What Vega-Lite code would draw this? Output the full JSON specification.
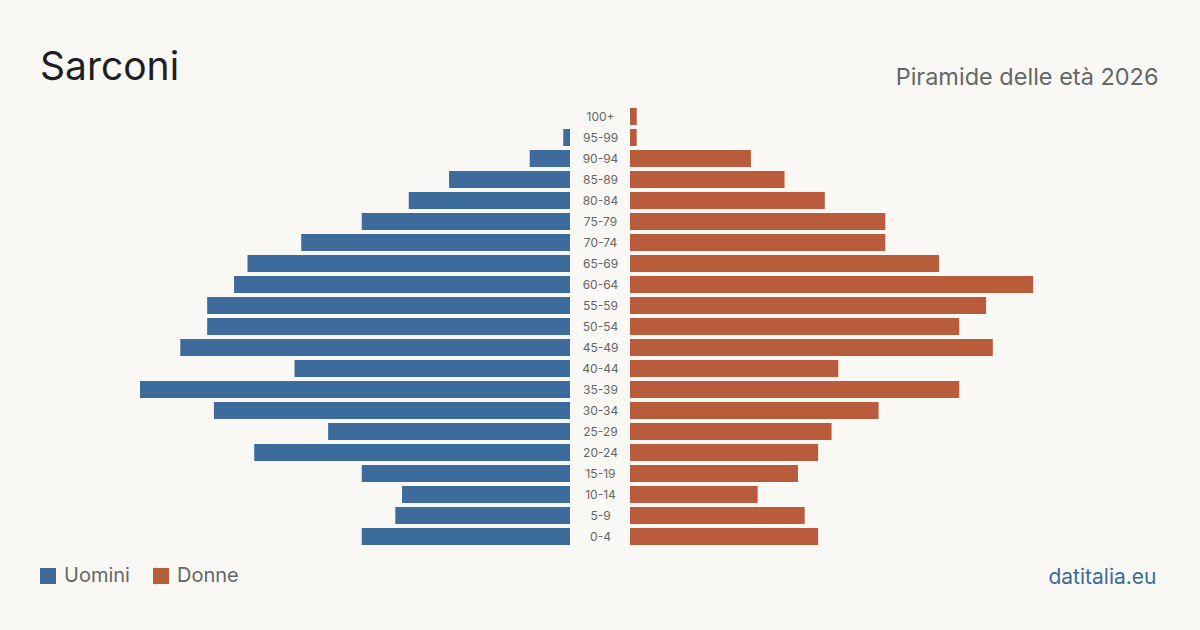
{
  "$schema": "https://vega.github.io/schema/vega-lite/v6.json",
  "width": 1200,
  "height": 441,
  "autosize": {"type": "none"},
  "padding": {"left": 0, "right": 0, "top": 106, "bottom": 83},
  "background": "#f9f8f4",
  "title": {"text": "Sarconi", "anchor": "start", "frame": "group", "dx": 40, "dy": 80, "offset": 26, "fontSize": 39, "font": "Inter", "fontWeight": 400, "color": "#1f1f1f", "baseline": "alphabetic"},
  "data": {"values": [
    {"eta": "100+", "sesso": "Uomini", "n": 0},
    {"eta": "95-99", "sesso": "Uomini", "n": 1},
    {"eta": "90-94", "sesso": "Uomini", "n": 6},
    {"eta": "85-89", "sesso": "Uomini", "n": 18},
    {"eta": "80-84", "sesso": "Uomini", "n": 24},
    {"eta": "75-79", "sesso": "Uomini", "n": 31},
    {"eta": "70-74", "sesso": "Uomini", "n": 40},
    {"eta": "65-69", "sesso": "Uomini", "n": 48},
    {"eta": "60-64", "sesso": "Uomini", "n": 50},
    {"eta": "55-59", "sesso": "Uomini", "n": 54},
    {"eta": "50-54", "sesso": "Uomini", "n": 54},
    {"eta": "45-49", "sesso": "Uomini", "n": 58},
    {"eta": "40-44", "sesso": "Uomini", "n": 41},
    {"eta": "35-39", "sesso": "Uomini", "n": 64},
    {"eta": "30-34", "sesso": "Uomini", "n": 53},
    {"eta": "25-29", "sesso": "Uomini", "n": 36},
    {"eta": "20-24", "sesso": "Uomini", "n": 47},
    {"eta": "15-19", "sesso": "Uomini", "n": 31},
    {"eta": "10-14", "sesso": "Uomini", "n": 25},
    {"eta": "5-9", "sesso": "Uomini", "n": 26},
    {"eta": "0-4", "sesso": "Uomini", "n": 31},
    {"eta": "100+", "sesso": "Donne", "n": 1},
    {"eta": "95-99", "sesso": "Donne", "n": 1},
    {"eta": "90-94", "sesso": "Donne", "n": 18},
    {"eta": "85-89", "sesso": "Donne", "n": 23},
    {"eta": "80-84", "sesso": "Donne", "n": 29},
    {"eta": "75-79", "sesso": "Donne", "n": 38},
    {"eta": "70-74", "sesso": "Donne", "n": 38},
    {"eta": "65-69", "sesso": "Donne", "n": 46},
    {"eta": "60-64", "sesso": "Donne", "n": 60},
    {"eta": "55-59", "sesso": "Donne", "n": 53},
    {"eta": "50-54", "sesso": "Donne", "n": 49},
    {"eta": "45-49", "sesso": "Donne", "n": 54},
    {"eta": "40-44", "sesso": "Donne", "n": 31},
    {"eta": "35-39", "sesso": "Donne", "n": 49},
    {"eta": "30-34", "sesso": "Donne", "n": 37},
    {"eta": "25-29", "sesso": "Donne", "n": 30},
    {"eta": "20-24", "sesso": "Donne", "n": 28},
    {"eta": "15-19", "sesso": "Donne", "n": 25},
    {"eta": "10-14", "sesso": "Donne", "n": 19},
    {"eta": "5-9", "sesso": "Donne", "n": 26},
    {"eta": "0-4", "sesso": "Donne", "n": 28}
  ]},
  "resolve": {"scale": {"x": "independent"}, "axis": {"x": "independent"}},
  "layer": [
    {
      "transform": [{"filter": "datum.sesso === 'Uomini'"}],
      "mark": {"type": "bar"},
      "encoding": {
        "y": {
          "field": "eta", "type": "nominal",
          "sort": ["100+", "95-99", "90-94", "85-89", "80-84", "75-79", "70-74", "65-69", "60-64", "55-59", "50-54", "45-49", "40-44", "35-39", "30-34", "25-29", "20-24", "15-19", "10-14", "5-9", "0-4"],
          "scale": {"paddingInner": 0.19, "paddingOuter": 0.095},
          "axis": {"orient": "left", "offset": -600, "domain": false, "ticks": false, "grid": false, "labelPadding": 0, "labelAlign": "center", "labelFontSize": 12, "labelFont": "Inter", "labelColor": "#666666", "title": null}
        },
        "x": {
          "field": "n", "type": "quantitative",
          "scale": {"domain": [0, 64], "range": [570, 140], "nice": false},
          "axis": {"orient": "bottom", "labels": false, "ticks": false, "domain": false, "grid": false, "title": "datitalia.eu", "titleX": 1156, "titleY": 36, "titleAlign": "right", "titleBaseline": "alphabetic", "titleFont": "Inter", "titleFontSize": 21, "titleFontWeight": 400, "titleColor": "#3d6b9b"}
        },
        "color": {
          "field": "sesso", "type": "nominal",
          "scale": {"domain": ["Uomini", "Donne"], "range": ["#3d6b9b", "#b95c3c"]},
          "legend": {"title": null, "orient": "none", "legendX": 38, "legendY": 460, "direction": "horizontal", "symbolType": "square", "symbolSize": 256, "symbolStrokeWidth": 0, "symbolOpacity": 1, "labelFontSize": 20, "labelFont": "Inter", "labelColor": "#666666", "labelOffset": 6, "columnPadding": 21, "padding": 0}
        }
      }
    },
    {
      "transform": [{"filter": "datum.sesso === 'Donne'"}],
      "mark": {"type": "bar"},
      "encoding": {
        "y": {
          "field": "eta", "type": "nominal",
          "sort": ["100+", "95-99", "90-94", "85-89", "80-84", "75-79", "70-74", "65-69", "60-64", "55-59", "50-54", "45-49", "40-44", "35-39", "30-34", "25-29", "20-24", "15-19", "10-14", "5-9", "0-4"]
        },
        "x": {
          "field": "n", "type": "quantitative",
          "scale": {"domain": [0, 64], "range": [630, 1060], "nice": false},
          "axis": {"orient": "top", "labels": false, "ticks": false, "domain": false, "grid": false, "title": "Piramide delle età 2026", "titleX": 1158, "titleY": -22, "titleAlign": "right", "titleBaseline": "alphabetic", "titleFont": "Inter", "titleFontSize": 23.5, "titleFontWeight": 400, "titleColor": "#666666"}
        },
        "color": {"field": "sesso", "type": "nominal"}
      }
    }
  ],
  "config": {"view": {"stroke": null}}
}
